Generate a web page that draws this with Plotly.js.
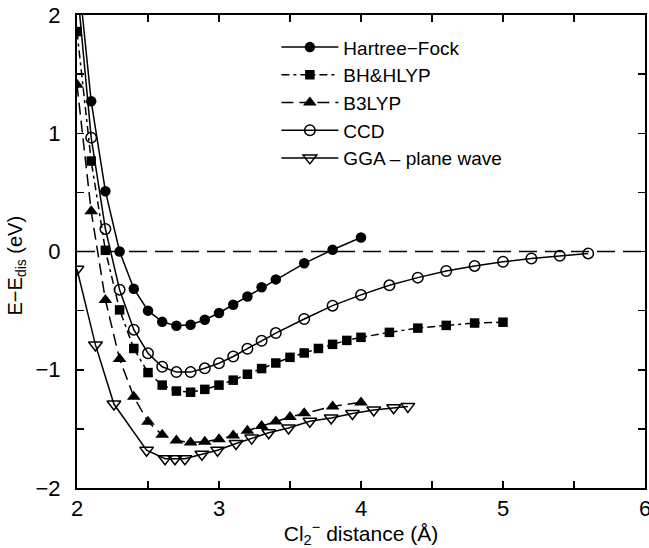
<!DOCTYPE html>
<html>
<head>
<meta charset="utf-8">
<script src="https://cdn.plot.ly/plotly-3.0.1.min.js"></script>
<style>html,body{margin:0;padding:0;background:#fff;}#chart{width:649px;height:548px;}</style>
</head>
<body>
<div id="chart"></div>
<script>
// Hartree-Fock
const hfX = [2.0, 2.1, 2.2, 2.3, 2.4, 2.5, 2.6, 2.7, 2.8, 2.9, 3.0, 3.1, 3.2, 3.3, 3.4, 3.6, 3.8, 4.0];
const hfY = [2.45, 1.27, 0.51, 0.0, -0.315, -0.50, -0.595, -0.628, -0.62, -0.577, -0.52, -0.45, -0.38, -0.303, -0.236, -0.10, 0.015, 0.118];
// BH&HLYP
const bhX = [2.0, 2.1, 2.2, 2.3, 2.4, 2.5, 2.6, 2.7, 2.8, 2.9, 3.0, 3.1, 3.2, 3.3, 3.4, 3.5, 3.6, 3.7, 3.8, 3.9, 4.0, 4.2, 4.4, 4.6, 4.8, 5.0];
const bhY = [1.86, 0.765, 0.01, -0.494, -0.82, -1.024, -1.13, -1.18, -1.19, -1.166, -1.13, -1.088, -1.038, -0.99, -0.943, -0.895, -0.858, -0.82, -0.785, -0.752, -0.726, -0.684, -0.648, -0.625, -0.605, -0.598];
// B3LYP
const b3X = [2.0, 2.1, 2.2, 2.3, 2.4, 2.5, 2.6, 2.7, 2.8, 2.9, 3.0, 3.1, 3.2, 3.3, 3.4, 3.5, 3.6, 3.8, 4.0];
const b3Y = [1.41, 0.34, -0.41, -0.91, -1.228, -1.44, -1.55, -1.598, -1.615, -1.608, -1.587, -1.556, -1.516, -1.475, -1.438, -1.40, -1.368, -1.31, -1.276];
// CCD
const ccdX = [2.0, 2.1, 2.2, 2.3, 2.4, 2.5, 2.6, 2.7, 2.8, 2.9, 3.0, 3.1, 3.2, 3.3, 3.4, 3.6, 3.8, 4.0, 4.2, 4.4, 4.6, 4.8, 5.0, 5.2, 5.4, 5.6];
const ccdY = [2.25, 0.963, 0.19, -0.323, -0.661, -0.86, -0.975, -1.02, -1.02, -0.988, -0.945, -0.888, -0.822, -0.755, -0.69, -0.571, -0.458, -0.367, -0.286, -0.221, -0.165, -0.122, -0.087, -0.059, -0.036, -0.016];
// GGA - plane wave
const ggaX = [2.0, 2.13, 2.26, 2.49, 2.62, 2.69, 2.76, 2.88, 2.99, 3.12, 3.23, 3.35, 3.49, 3.64, 3.79, 3.94, 4.09, 4.23, 4.33];
const ggaY = [-0.15, -0.79, -1.29, -1.68, -1.752, -1.752, -1.752, -1.715, -1.68, -1.624, -1.578, -1.533, -1.492, -1.435, -1.408, -1.37, -1.34, -1.322, -1.31];

const seriesNames = ['Hartree\u2212Fock', 'BH&HLYP', 'B3LYP', 'CCD', 'GGA \u2013 plane wave'];

const xTickVals = [2, 2.5, 3, 3.5, 4, 4.5, 5, 5.5, 6];
const xTickText = ['2', '', '3', '', '4', '', '5', '', '6'];
const yTickVals = [-2, -1.5, -1, -0.5, 0, 0.5, 1, 1.5, 2];
const yTickText = ['\u22122', '', '\u22121', '', '0', '', '1', '', '2'];

const xTitle = 'Cl<sub>2</sub><sup>\u2212</sup> distance (\u00c5)';
const yTitle = 'E\u2212E<sub>dis</sub> (eV)';

const FONT = 'Liberation Sans, Arial, Helvetica, sans-serif';

const traces = [
  {x: hfX, y: hfY, name: seriesNames[0], mode: 'lines+markers',
   line: {color: '#000', width: 1.5, dash: 'solid'},
   marker: {symbol: 'circle', size: 10.5, color: '#000'}},
  {x: bhX, y: bhY, name: seriesNames[1], mode: 'lines+markers',
   line: {color: '#000', width: 1.5, dash: '8px,4px,3px,4px'},
   marker: {symbol: 'square', size: 9.5, color: '#000'}},
  {x: b3X, y: b3Y, name: seriesNames[2], mode: 'lines+markers',
   line: {color: '#000', width: 1.5, dash: '12px,6px'},
   marker: {symbol: 'triangle-up', size: 12, color: '#000'}},
  {x: ccdX, y: ccdY, name: seriesNames[3], mode: 'lines+markers',
   line: {color: '#000', width: 1.5, dash: 'solid'},
   marker: {symbol: 'circle-open', size: 10.5, color: '#000', line: {width: 1.5, color: '#000'}}},
  {x: ggaX, y: ggaY, name: seriesNames[4], mode: 'lines+markers',
   line: {color: '#000', width: 1.5, dash: 'solid'},
   marker: {symbol: 'triangle-down-open', size: 12, color: '#000', line: {width: 1.5, color: '#000'}}}
];

const layout = {
  width: 649, height: 548,
  margin: {l: 77, r: 4, t: 15, b: 60},
  paper_bgcolor: '#fff', plot_bgcolor: '#fff',
  font: {family: FONT, size: 20, color: '#000'},
  showlegend: true,
  legend: {x: 0.351, y: 0.972, xanchor: 'left', yanchor: 'top', bgcolor: 'rgba(0,0,0,0)',
           font: {family: FONT, size: 19, color: '#000'}, itemwidth: 57, tracegroupgap: 0},
  xaxis: {range: [2, 6], tickvals: xTickVals, ticktext: xTickText,
          ticks: 'inside', ticklen: 7, tickwidth: 1.5, tickcolor: '#000',
          showline: true, linecolor: '#000', linewidth: 2, mirror: 'ticks',
          showgrid: false, zeroline: false, ticklabelstandoff: 0, ticklabeloverflow: 'allow',
          tickfont: {family: FONT, size: 22, color: '#000'},
          title: {text: xTitle, font: {family: FONT, size: 21, color: '#000'}, standoff: 0}},
  yaxis: {range: [-2, 2], tickvals: yTickVals, ticktext: yTickText,
          ticks: 'inside', ticklen: 7, tickwidth: 1.5, tickcolor: '#000',
          showline: true, linecolor: '#000', linewidth: 2, mirror: 'ticks',
          showgrid: false, zeroline: false, ticklabelstandoff: 10, ticklabeloverflow: 'allow',
          tickfont: {family: FONT, size: 22, color: '#000'}},
  annotations: [{text: yTitle, xref: 'paper', yref: 'paper', x: -0.106, y: 0.47,
                 xanchor: 'center', yanchor: 'middle', textangle: -90, showarrow: false,
                 font: {family: FONT, size: 20, color: '#000'}}],
  shapes: [{type: 'line', xref: 'paper', x0: 0, x1: 1, yref: 'y', y0: 0, y1: 0,
            line: {color: '#000', width: 1.5, dash: '18px,8px'}, layer: 'below'}]
};

Plotly.newPlot('chart', traces, layout, {displayModeBar: false, staticPlot: true});
</script>
</body>
</html>
